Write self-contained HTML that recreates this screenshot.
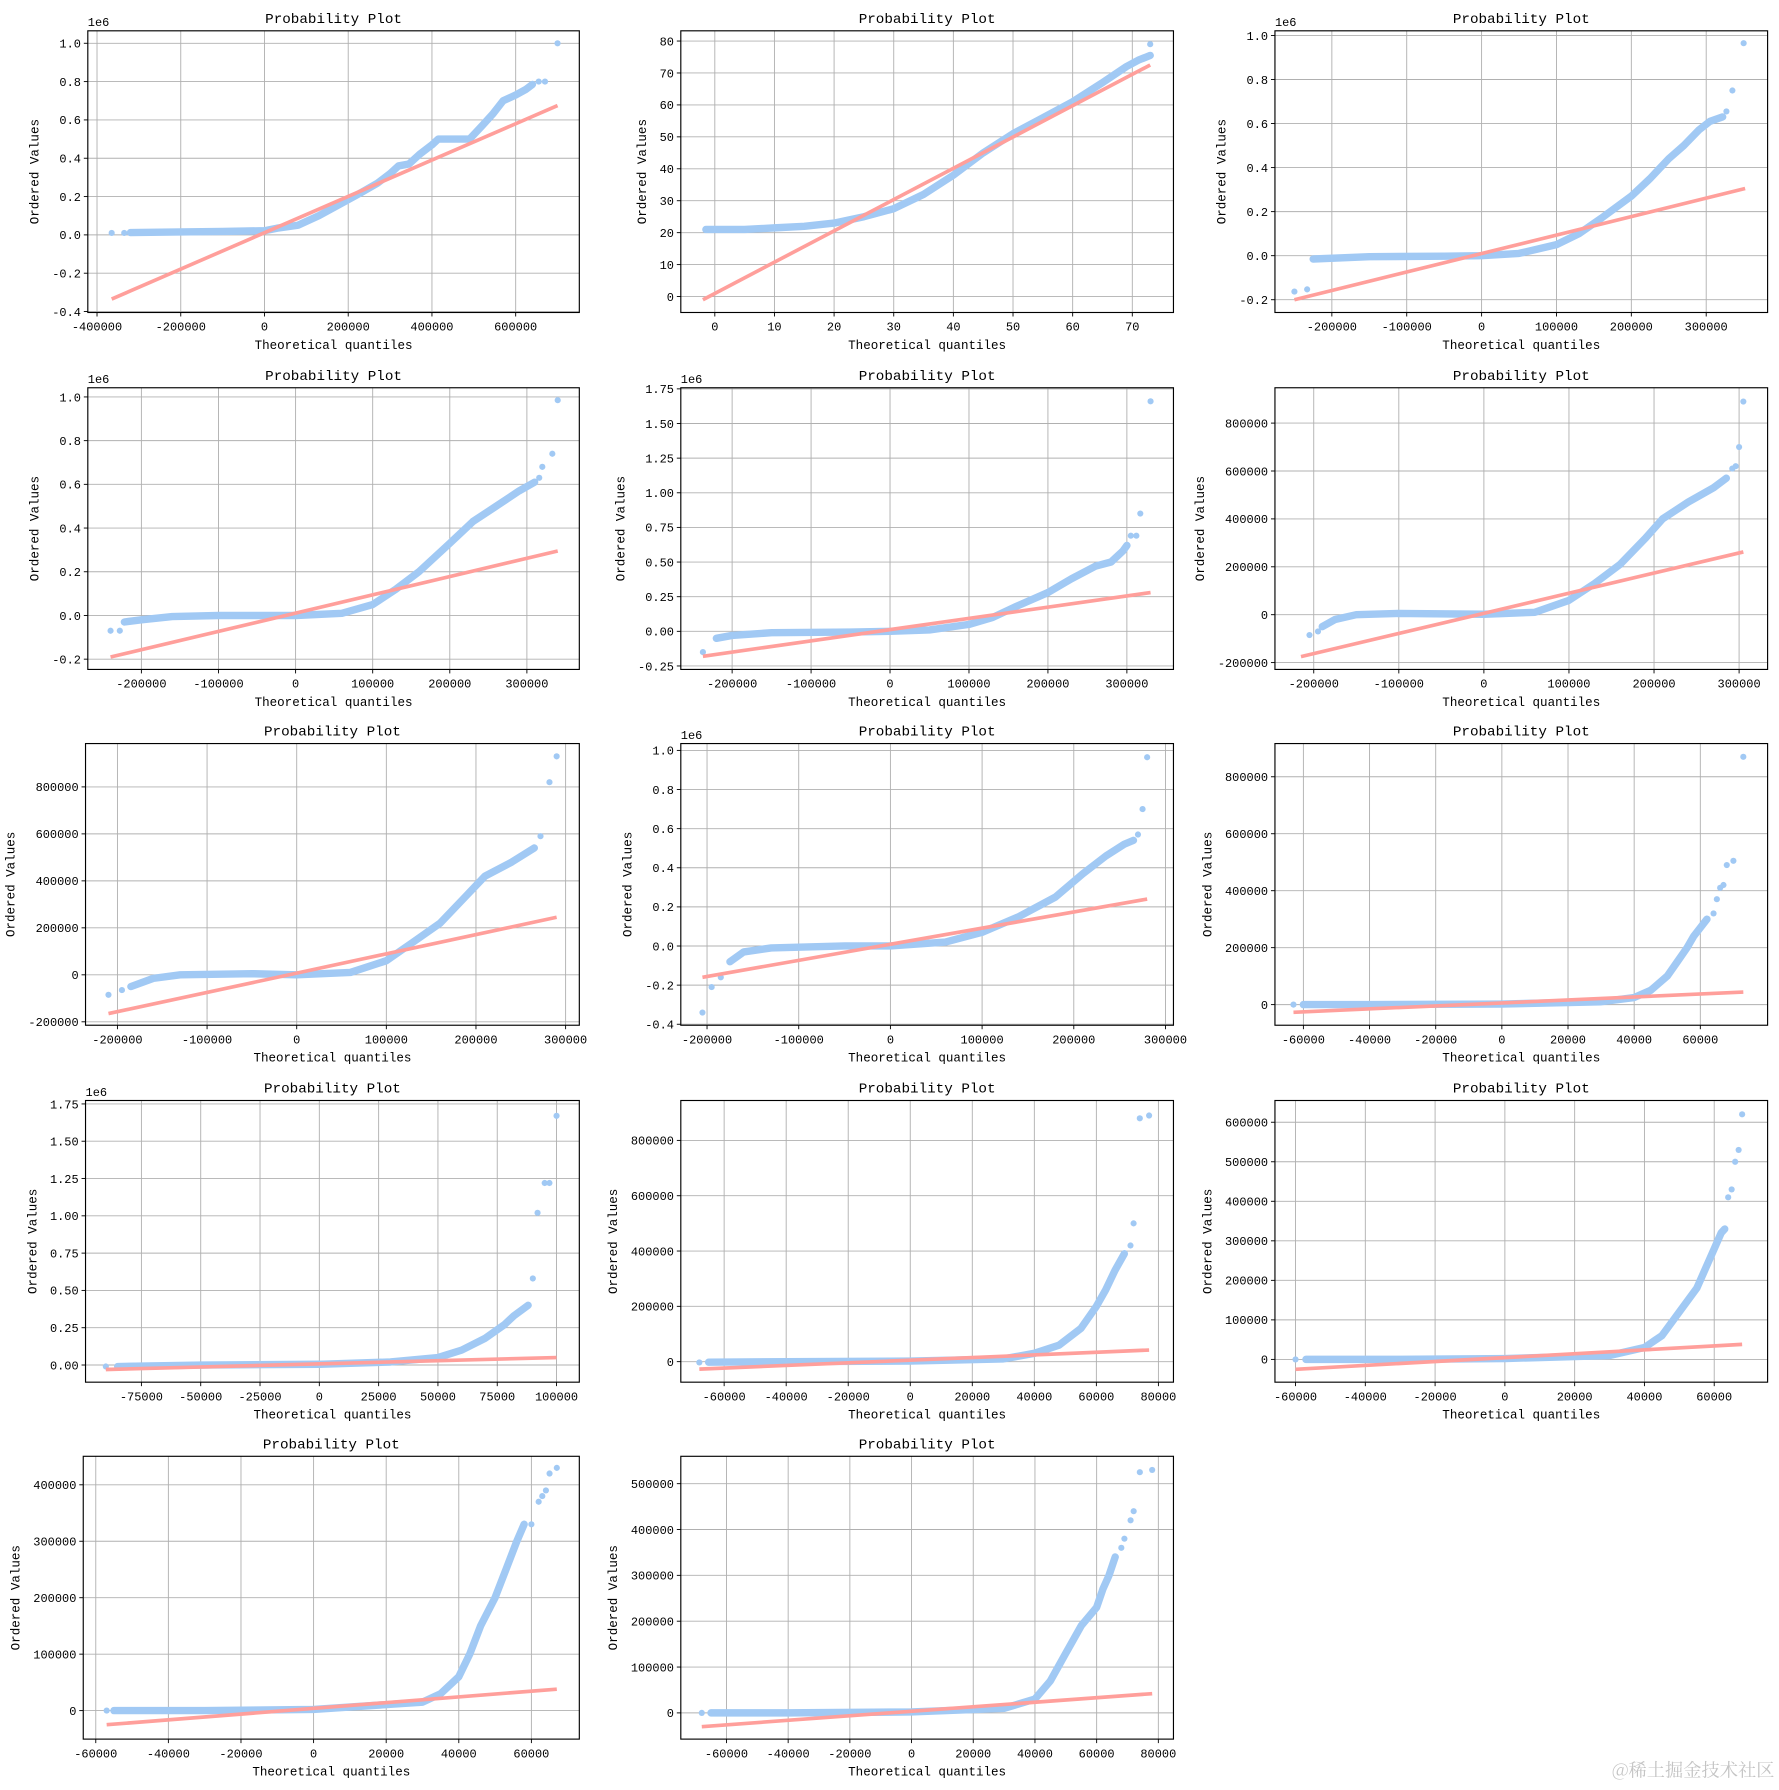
<!DOCTYPE html>
<html><head><meta charset="utf-8"><style>
html,body{margin:0;padding:0;background:#fff;}
svg{display:block;}
text{font-family:"Liberation Mono","Noto Sans CJK SC",monospace;fill:#000;}
</style></head><body>
<svg id="fig" width="1779" height="1790" viewBox="0 0 1560 1569.6" xmlns="http://www.w3.org/2000/svg">
<rect width="1560" height="1569.6" fill="#fff"/>
<text x="1556" y="1558" text-anchor="end" font-size="16" style="font-family:'Noto Serif CJK SC',serif;fill:#c4c4c4">@稀土掘金技术社区</text>
</svg>
<script>
// ---- data (one entry per subplot) ----
const plotXLims = [[-422000,752000],[-5.7,76.9],[-276000,382000],[-269500,368000],[-265000,359000],[-245600,333500],[-235600,315300],[-228600,308700],[-68600,80340],[-98560,109600],[-73970,84850],[-65900,75300],[-63450,73200],[-74800,84900]];
const plotYLims = [[-0.405,1.065],[-5,83.2],[-0.258,1.021],[-0.247,1.042],[-0.275,1.758],[-228600,947600],[-214600,984500],[-0.405,1.035],[-72400,916600],[-0.115,1.773],[-74200,944300],[-57600,655000],[-50500,450500],[-57200,559700]];
const plotXTicks = [
 [-400000,-200000,0,200000,400000,600000],[0,10,20,30,40,50,60,70],
 [-200000,-100000,0,100000,200000,300000],[-200000,-100000,0,100000,200000,300000],
 [-200000,-100000,0,100000,200000,300000],[-200000,-100000,0,100000,200000,300000],
 [-200000,-100000,0,100000,200000,300000],[-200000,-100000,0,100000,200000,300000],
 [-60000,-40000,-20000,0,20000,40000,60000],[-75000,-50000,-25000,0,25000,50000,75000,100000],
 [-60000,-40000,-20000,0,20000,40000,60000,80000],[-60000,-40000,-20000,0,20000,40000,60000],
 [-60000,-40000,-20000,0,20000,40000,60000],[-60000,-40000,-20000,0,20000,40000,60000,80000]];
const plotYTicks = [
 [-0.4,-0.2,0,0.2,0.4,0.6,0.8,1.0],[0,10,20,30,40,50,60,70,80],
 [-0.2,0,0.2,0.4,0.6,0.8,1.0],[-0.2,0,0.2,0.4,0.6,0.8,1.0],
 [-0.25,0,0.25,0.5,0.75,1.0,1.25,1.5,1.75],[-200000,0,200000,400000,600000,800000],
 [-200000,0,200000,400000,600000,800000],[-0.4,-0.2,0,0.2,0.4,0.6,0.8,1.0],
 [0,200000,400000,600000,800000],[0,0.25,0.5,0.75,1.0,1.25,1.5,1.75],
 [0,200000,400000,600000,800000],[0,100000,200000,300000,400000,500000,600000],
 [0,100000,200000,300000,400000],[0,100000,200000,300000,400000,500000]];
const plotYDecimals = [1,0,1,1,2,0,0,1,0,2,0,0,0,0];
const plotOffsetText = ["1e6","","1e6","1e6","1e6","","","1e6","","1e6","","","",""];
const plotFitLines = [
 [-365000,-0.335,700000,0.675],[-2,-1,73,72.5],[-250000,-0.2,352000,0.305],[-240000,-0.19,340000,0.295],
 [-237000,-0.18,330000,0.28],[-215000,-175000,305000,262000],[-210000,-165000,290000,245000],
 [-205000,-0.16,280000,0.24],[-63000,-27000,73000,44000],[-90000,-0.03,100000,0.05],
 [-68000,-27000,77000,42000],[-60000,-25000,68000,38000],[-57000,-25000,67000,38000],[-68000,-30000,78000,42000]];
const plotCurves = [
 [[-320000,0.012],[-200000,0.015],[-100000,0.018],[0,0.022],[30000,0.035],[80000,0.05],[130000,0.1],[180000,0.16],[230000,0.22],[270000,0.27],[300000,0.32],[320000,0.36],[345000,0.37],[370000,0.42],[400000,0.47],[415000,0.5],[490000,0.5],[520000,0.57],[545000,0.63],[570000,0.7],[600000,0.73],[625000,0.76],[640000,0.785]],
 [[-1.5,21],[5,21],[10,21.5],[15,22],[20,23],[25,25],[30,27.5],[35,32],[40,38],[45,45],[50,51],[55,56],[60,61],[65,67],[69,72],[71,74],[73,75.5]],
 [[-225000,-0.015],[-150000,-0.005],[-50000,-0.002],[0,0],[50000,0.01],[100000,0.05],[130000,0.1],[160000,0.17],[200000,0.27],[225000,0.35],[250000,0.44],[270000,0.5],[290000,0.57],[305000,0.61],[322000,0.63]],
 [[-222000,-0.03],[-200000,-0.02],[-160000,-0.005],[-100000,0],[0,0],[60000,0.01],[100000,0.05],[130000,0.12],[160000,0.2],[200000,0.33],[230000,0.43],[260000,0.5],[290000,0.57],[310000,0.61]],
 [[-220000,-0.05],[-200000,-0.03],[-150000,-0.01],[-50000,-0.005],[0,0],[50000,0.01],[100000,0.05],[130000,0.1],[160000,0.18],[200000,0.28],[230000,0.38],[260000,0.47],[280000,0.5],[295000,0.58],[300000,0.62]],
 [[-190000,-50000],[-175000,-20000],[-150000,0],[-100000,5000],[0,2000],[60000,10000],[100000,60000],[130000,130000],[160000,210000],[190000,320000],[210000,400000],[240000,470000],[270000,530000],[285000,570000]],
 [[-185000,-50000],[-160000,-15000],[-130000,0],[-50000,5000],[0,0],[60000,10000],[100000,60000],[130000,140000],[160000,220000],[190000,340000],[210000,420000],[240000,480000],[265000,540000]],
 [[-175000,-0.08],[-160000,-0.03],[-130000,-0.01],[-50000,0],[0,0],[60000,0.02],[100000,0.07],[140000,0.15],[180000,0.25],[210000,0.37],[235000,0.46],[255000,0.52],[265000,0.54]],
 [[-60000,0],[-40000,0],[0,2000],[30000,10000],[40000,25000],[45000,50000],[50000,100000],[53000,150000],[56000,200000],[58000,240000],[60000,270000],[62000,300000]],
 [[-85000,-0.01],[-50000,0],[0,0.005],[30000,0.02],[50000,0.05],[60000,0.1],[70000,0.18],[78000,0.27],[82000,0.33],[88000,0.4]],
 [[-65000,-2000],[-40000,0],[0,2000],[30000,10000],[40000,30000],[48000,60000],[55000,120000],[60000,200000],[63000,260000],[66000,330000],[69000,390000]],
 [[-57000,0],[-30000,0],[0,2000],[30000,10000],[40000,30000],[45000,60000],[50000,120000],[55000,180000],[58000,240000],[60000,280000],[62000,320000],[63000,330000]],
 [[-55000,0],[-30000,0],[0,2000],[30000,15000],[35000,30000],[40000,60000],[43000,100000],[46000,150000],[50000,200000],[53000,250000],[56000,300000],[58000,330000]],
 [[-65000,0],[-40000,0],[0,2000],[30000,10000],[40000,30000],[45000,70000],[50000,130000],[55000,190000],[60000,230000],[62000,270000],[64000,300000],[66000,340000]]];
const plotOutliers = [
 [[-365000,0.01],[-335000,0.01],[655000,0.8],[670000,0.8],[700000,1.0]],
 [[73,79]],
 [[-250000,-0.163],[-233000,-0.153],[327000,0.655],[335000,0.75],[350000,0.965]],
 [[-240000,-0.07],[-228000,-0.07],[316000,0.63],[320000,0.68],[333000,0.74],[340000,0.985]],
 [[-237000,-0.15],[305000,0.69],[312000,0.69],[317000,0.85],[330000,1.66]],
 [[-205000,-85000],[-195000,-70000],[292000,610000],[296000,620000],[300000,700000],[305000,890000]],
 [[-210000,-85000],[-195000,-65000],[272000,590000],[282000,820000],[290000,930000]],
 [[-205000,-0.34],[-195000,-0.21],[-185000,-0.16],[270000,0.57],[275000,0.7],[280000,0.965]],
 [[-63000,0],[64000,320000],[65000,370000],[66000,410000],[67000,420000],[68000,490000],[70000,505000],[73000,870000]],
 [[-90000,-0.01],[90000,0.58],[92000,1.02],[95000,1.22],[97000,1.22],[100000,1.67]],
 [[-68000,-3000],[71000,420000],[72000,500000],[74000,880000],[77000,890000]],
 [[-60000,0],[-55000,0],[64000,410000],[65000,430000],[66000,500000],[67000,530000],[68000,620000]],
 [[-57000,0],[-50000,0],[60000,330000],[62000,370000],[63000,380000],[64000,390000],[65000,420000],[67000,430000]],
 [[-68000,0],[68000,360000],[69000,380000],[71000,420000],[72000,440000],[74000,525000],[78000,530000]]];

// ---- layout (not data) ----
const rowsY=[[27,274],[340,587],[652,899],[965,1212],[1277,1525]];
const colsX=[[77,508],[597,1029],[1118,1550]];
const leftOverride={6:75,9:75,12:73};
const NS="http://www.w3.org/2000/svg";
const svg=document.getElementById('fig');
const wm=svg.lastElementChild;
function mk(tag,attrs,parent){const e=document.createElementNS(NS,tag);for(const k in attrs)e.setAttribute(k,attrs[k]);parent.appendChild(e);return e;}

for(let i=0;i<14;i++){
  const r=Math.floor(i/3),c=i%3;
  const x0=leftOverride[i]!==undefined?leftOverride[i]:colsX[c][0],x1=colsX[c][1],y0=rowsY[r][0],y1=rowsY[r][1];
  const xs=v=>x0+(v-plotXLims[i][0])/(plotXLims[i][1]-plotXLims[i][0])*(x1-x0);
  const ys=v=>y1-(v-plotYLims[i][0])/(plotYLims[i][1]-plotYLims[i][0])*(y1-y0);
  const g=mk('g',{},svg);
  
  
  const grid=mk('g',{},g);
  
  
  plotXTicks[i].forEach(v=>{const X=xs(v);
    mk('line',{x1:X,x2:X,y1:y0,y2:y1,stroke:'#b0b0b0','stroke-width':0.8},grid);
    mk('line',{x1:X,x2:X,y1:y1,y2:y1+3.5,stroke:'#000','stroke-width':0.8},g);
    const t=mk('text',{x:X,y:y1+16,'text-anchor':'middle','font-size':10.5},g);
    
    
    t.textContent=String(v);});
  let maxW=0;
  plotYTicks[i].forEach(v=>{const Y=ys(v);
    mk('line',{x1:x0,x2:x1,y1:Y,y2:Y,stroke:'#b0b0b0','stroke-width':0.8},grid);
    mk('line',{x1:x0-3.5,x2:x0,y1:Y,y2:Y,stroke:'#000','stroke-width':0.8},g);
    const s=v.toFixed(plotYDecimals[i]);maxW=Math.max(maxW,s.length);
    const t=mk('text',{x:x0-6,y:Y+3.8,'text-anchor':'end','font-size':10.5},g);
    
    
    t.textContent=s;});
  const cp=plotCurves[i].map(p=>xs(p[0]).toFixed(1)+','+ys(p[1]).toFixed(1)).join(' ');
  const band=mk('polyline',{points:cp,fill:'none',stroke:'#a1c9f4','stroke-width':6.5,'stroke-linejoin':'round','stroke-linecap':'round'},g);
  
  
  plotCurves[i].concat(plotOutliers[i]).forEach(p=>{
    const d=mk('circle',{cx:xs(p[0]),cy:ys(p[1]),r:2.7,fill:'#a1c9f4'},g);
    
    });
  const L=plotFitLines[i];
  const fl=mk('line',{x1:xs(L[0]),y1:ys(L[1]),x2:xs(L[2]),y2:ys(L[3]),stroke:'#ff9f9b','stroke-width':3.2},g);
  
  
  const fr=mk('rect',{x:x0,y:y0,width:x1-x0,height:y1-y0,fill:'none',stroke:'#000','stroke-width':1},g);
  
  
  const ti=mk('text',{x:(x0+x1)/2,y:y0-7,'text-anchor':'middle','font-size':12.5},g);
  
  
  ti.textContent='Probability Plot';
  const xl=mk('text',{x:(x0+x1)/2,y:y1+32,'text-anchor':'middle','font-size':11},g);
  
  
  xl.textContent='Theoretical quantiles';
  const yx=x0-10-maxW*6.3-8;
  const yl=mk('text',{x:yx,y:(y0+y1)/2,'text-anchor':'middle','font-size':11,transform:'rotate(-90 '+yx+' '+(y0+y1)/2+')'},g);
  
  
  yl.textContent='Ordered Values';
  if(plotOffsetText[i]){
    const o=mk('text',{x:x0,y:y0-4,'font-size':10.5},g);
    
    
    o.textContent=plotOffsetText[i];}
}
svg.appendChild(wm);
</script>
</body></html>
